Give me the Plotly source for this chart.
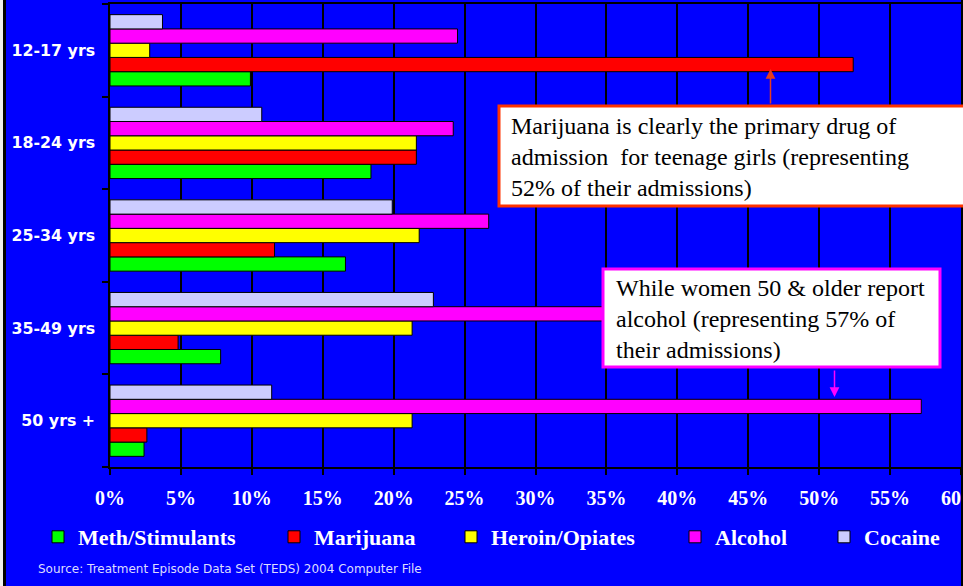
import plotly.graph_objects as go

# ---------------- data ----------------
categories = ["12-17 yrs", "18-24 yrs", "25-34 yrs", "35-49 yrs", "50 yrs +"]
series_names = ["Meth/Stimulants", "Marijuana", "Heroin/Opiates", "Alcohol", "Cocaine"]
meth = [9.9, 18.4, 16.6, 7.8, 2.4]
marijuana = [52.4, 21.6, 11.6, 4.8, 2.6]
heroin = [2.8, 21.6, 21.8, 21.3, 21.3]
alcohol = [24.5, 24.2, 26.7, 36.0, 57.2]
cocaine = [3.7, 10.7, 19.9, 22.8, 11.4]
x_ticks = [0, 5, 10, 15, 20, 25, 30, 35, 40, 45, 50, 55, 60]

series_values = [meth, marijuana, heroin, alcohol, cocaine]
series_colors = ["#00FF00", "#FF0000", "#FFFF00", "#FF00FF", "#CCCCFF"]

# ---------------- layout geometry ----------------
W, H = 963, 586
L, R, T, B = 110, 2, 4, 119
PW, PH = W - L - R, H - T - B


def px(xp):
    return (xp - L) / PW


def py(yp):
    return (H - B - yp) / PH


BLUE = "#0000FF"
fig = go.Figure()

legend_text_x = [78, 314, 491, 715, 864]
for i, (name, vals, col) in enumerate(zip(series_names, series_values, series_colors)):
    lg = "legend" if i == 0 else f"legend{i + 1}"
    fig.add_trace(go.Bar(
        y=categories, x=vals, name=name, orientation="h",
        marker=dict(color=col, line=dict(color="black", width=1)),
        legend=lg,
    ))

legend_font = dict(family="Liberation Serif", size=22, color="white", weight="bold")
legends = {}
for i, tx in enumerate(legend_text_x):
    key = "legend" if i == 0 else f"legend{i + 1}"
    legends[key] = dict(
        xref="container", yref="container",
        x=(tx - 40) / W, y=1 - 537 / H, xanchor="left", yanchor="middle",
        orientation="h", font=legend_font, bgcolor="rgba(0,0,0,0)",
        borderwidth=0, itemclick=False,
    )

fig.update_layout(
    width=W, height=H,
    margin=dict(l=L, r=R, t=T, b=B, pad=0, autoexpand=False),
    paper_bgcolor=BLUE, plot_bgcolor=BLUE,
    barmode="group", bargap=0.23, bargroupgap=0,
    showlegend=True,
    **legends,
)

fig.update_xaxes(
    range=[0, 60], tickvals=x_ticks, ticktext=[f"{v}%" for v in x_ticks],
    showgrid=True, gridcolor="black", gridwidth=1.5,
    zeroline=False, showline=True, linecolor="black", linewidth=2, mirror=True,
    ticks="outside", ticklen=6, tickcolor="black", tickwidth=1.5,
    tickfont=dict(family="Liberation Serif", size=20, color="white", weight="bold"),
    ticklabelstandoff=6, automargin=False, ticklabeloverflow="allow",
)
fig.update_yaxes(
    type="category", categoryorder="array", categoryarray=categories[::-1],
    showgrid=False, zeroline=False, showline=True, linecolor="black", linewidth=1.5, mirror=True,
    ticks="outside", ticklen=6, tickcolor="black", tickwidth=1.5, tickson="boundaries",
    tickfont=dict(family="DejaVu Sans", size=15.8, color="white", weight="bold"),
    ticklabelstandoff=10, automargin=False,
)

shapes = [
    # outer frame bits
    dict(type="rect", xref="paper", yref="paper", x0=px(-5), x1=px(3), y0=py(-5), y1=py(H + 5),
         fillcolor="#EEEEEE", line=dict(width=0), layer="above"),
    dict(type="line", xref="paper", yref="paper", x0=px(4.5), x1=px(4.5), y0=py(-5), y1=py(H + 5),
         line=dict(color="black", width=3), layer="above"),
    dict(type="line", xref="paper", yref="paper", x0=px(962), x1=px(962), y0=py(-5), y1=py(H + 5),
         line=dict(color="black", width=2), layer="above"),
    # callout boxes
    dict(type="rect", xref="paper", yref="paper", x0=px(499), x1=px(975), y0=py(206), y1=py(106),
         fillcolor="white", line=dict(color="#FF3300", width=3), layer="above"),
    dict(type="rect", xref="paper", yref="paper", x0=px(603), x1=px(940), y0=py(367), y1=py(269),
         fillcolor="white", line=dict(color="#FF00FF", width=3), layer="above"),
]
fig.update_layout(shapes=shapes)

box_font = dict(family="Liberation Serif", size=24, color="black")
annotations = [
    dict(xref="paper", yref="paper", x=px(509), y=py(157), xanchor="left", yanchor="middle",
         align="left", showarrow=False, font=box_font,
         text="Marijuana is clearly the primary drug of<br>admission  for teenage girls (representing<br>52% of their admissions)"),
    dict(xref="paper", yref="paper", x=px(614), y=py(319), xanchor="left", yanchor="middle",
         align="left", showarrow=False, font=box_font,
         text="While women 50 &amp; older report<br>alcohol (representing 57% of<br>their admissions)"),
    # arrows
    dict(xref="paper", yref="paper", x=px(770.5), y=py(69), ax=0, ay=36, text="",
         showarrow=True, arrowhead=2, arrowsize=1.3, arrowwidth=1.5, arrowcolor="#E83C1C"),
    dict(xref="paper", yref="paper", x=px(834.5), y=py(397), ax=0, ay=-28, text="",
         showarrow=True, arrowhead=2, arrowsize=1.3, arrowwidth=1.5, arrowcolor="#FF00FF"),
    # source
    dict(xref="paper", yref="paper", x=px(36), y=py(569), xanchor="left", yanchor="middle",
         showarrow=False, text="Source: Treatment Episode Data Set (TEDS) 2004 Computer File",
         font=dict(family="DejaVu Sans", size=12, color="#DDDDFF")),
]
fig.update_layout(annotations=annotations)

fig.write_html(
    "out.html",
    config={"displayModeBar": False},
    post_script="document.body.style.margin='0px';document.body.style.overflow='hidden';",
)
